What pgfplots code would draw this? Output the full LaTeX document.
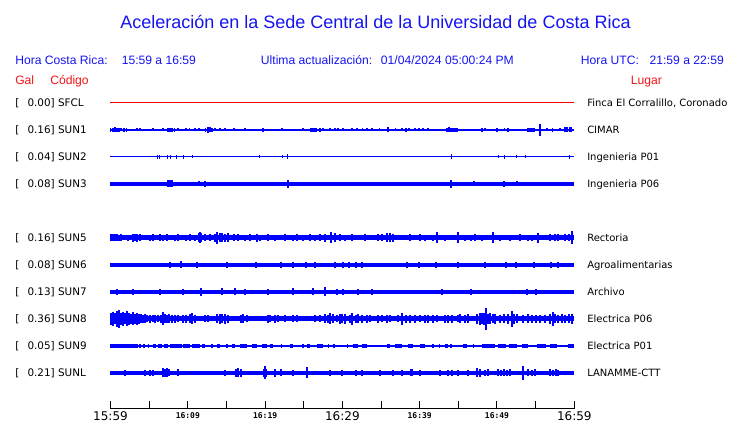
\documentclass[border=0pt]{standalone}
\usepackage{pgfplots}
\pgfplotsset{compat=1.18}
\usepackage{fontspec}
\setmainfont{DejaVu Sans}
\newfontfamily\lib{Liberation Sans}
\newfontfamily\dvmono{DejaVu Sans Mono}
\definecolor{tb}{RGB}{20,20,240}
\definecolor{tr}{RGB}{240,20,20}
\newcommand\bigt[1]{\hbox{\fontsize{9}{9}\selectfont #1}}
\newcommand\smt[1]{\hbox{\dvmono\bfseries\fontsize{6}{6}\selectfont #1}}
\pgfplotsset{
  spk/.style={draw=none, mark=none, forget plot,
    error bars/.cd, y dir=both, y explicit, error mark=none,
    error bar style={line width=#1, draw=blue, solid}},
  spk/.default=0.9pt,
  base/.style={blue, line width=#1, line cap=butt, mark=none, forget plot},
}
\begin{document}
\begin{tikzpicture}
\begin{axis}[name=ax,
  scale only axis, width=347.85pt, height=239.25pt,
  xmin=0, xmax=60, ymin=0, ymax=319,
  enlargelimits=false, clip=false,
  axis x line=bottom, axis y line=none,
  axis line style={black, line width=0.75pt, -},
  xtick={0,5,...,60},
  xticklabels={{\bigt{15:59}},{},{\smt{16:09}},{},{\smt{16:19}},{},{\bigt{16:29}},{},{\smt{16:39}},{},{\smt{16:49}},{},{\bigt{16:59}}},
  xtick align=inside, major tick length=6pt,
  major tick style={black, line width=0.75pt},
  xticklabel style={anchor=center, inner sep=0pt, yshift=-5.25pt},
]
% SFCL
\addplot[red, line width=0.75pt, mark=none] coordinates {(0,306)(60,306)};
% SUN1
\addplot[base=1.1pt] coordinates {(0,279)(60,279)};
\addplot[spk=0.8pt] coordinates {
(0.06,279)+-(0,2)(0.32,279)+-(0,2)(0.58,279)+-(0,2.5)(0.84,279)+-(0,2)(1.10,279)+-(0,2)(1.36,279)+-(0,1.5)(1.75,279)+-(0,2)(2.13,279)+-(0,2)(3.43,279)+-(0,1.5)(3.82,279)+-(0,1.5)(5.50,279)+-(0,1.5)(6.79,279)+-(0,1.5)(7.44,279)+-(0,2)(7.70,279)+-(0,2)(7.96,279)+-(0,2)(8.34,279)+-(0,2)(8.73,279)+-(0,1.5)(9.77,279)+-(0,1.5)(10.28,279)+-(0,1.5)(10.93,279)+-(0,1.5)(11.45,279)+-(0,1.5)(12.35,279)+-(0,2)(12.61,279)+-(0,3)(12.87,279)+-(0,2.5)(13.13,279)+-(0,2)(13.52,279)+-(0,1.5)(14.17,279)+-(0,1.5)(14.81,279)+-(0,1.5)(15.98,279)+-(0,1.5)(17.40,279)+-(0,1.5)(19.73,279)+-(0,2)(22.19,279)+-(0,1.5)(24.90,279)+-(0,1.5)(25.94,279)+-(0,2)(26.20,279)+-(0,2)(26.46,279)+-(0,2)(26.71,279)+-(0,2)(27.10,279)+-(0,2)(27.49,279)+-(0,1.5)(28.40,279)+-(0,1.5)(29.04,279)+-(0,1.5)(29.43,279)+-(0,1.5)(30.08,279)+-(0,1.5)(31.24,279)+-(0,1.5)(31.89,279)+-(0,1.5)(32.66,279)+-(0,1.5)(33.18,279)+-(0,1.5)(33.83,279)+-(0,1.5)(34.86,279)+-(0,1.5)(35.90,279)+-(0,2.5)(36.81,279)+-(0,1.5)(37.71,279)+-(0,1.5)(38.23,279)+-(0,2)(38.62,279)+-(0,1.5)(39.39,279)+-(0,1.5)(39.91,279)+-(0,1.5)(40.43,279)+-(0,1.5)(41.07,279)+-(0,1.5)(43.53,279)+-(0,2)(43.79,279)+-(0,2.5)(44.05,279)+-(0,2)(44.31,279)+-(0,2)(44.57,279)+-(0,2)(44.83,279)+-(0,2)(48.06,279)+-(0,2)(48.45,279)+-(0,1.5)(50.00,279)+-(0,2)(51.03,279)+-(0,1.5)(51.42,279)+-(0,2)(54.01,279)+-(0,2)(54.27,279)+-(0,2)(54.53,279)+-(0,2)(54.79,279)+-(0,2)(55.56,279)+-(0,6)(56.47,279)+-(0,1.5)(57.24,279)+-(0,2)(58.15,279)+-(0,1.5)(58.80,279)+-(0,2.5)(59.06,279)+-(0,2.5)(59.32,279)+-(0,2.5)(59.57,279)+-(0,2.5)};
% SUN2
\addplot[base=0.75pt] coordinates {(0,252)(60,252)};
\addplot[spk=0.75pt] coordinates {
(6.02,252)+-(0,2)(6.40,252)+-(0,2)(7.31,252)+-(0,2)(7.70,252)+-(0,2)(8.60,252)+-(0,2)(9.38,252)+-(0,2)(10.67,252)+-(0,1.5)(19.34,252)+-(0,1.5)(22.19,252)+-(0,1.5)(22.96,252)+-(0,2.5)(44.05,252)+-(0,2.5)(50.13,252)+-(0,1.5)(51.03,252)+-(0,2)(52.46,252)+-(0,1.5)(53.75,252)+-(0,1.5)(59.32,252)+-(0,2)};
% SUN3
\addplot[base=2.6pt] coordinates {(0,225)(60,225)};
\addplot[spk] coordinates {
(7.44,225)+-(0,3.5)(7.70,225)+-(0,3.5)(7.96,225)+-(0,3.5)(11.45,225)+-(0,2.5)(12.22,225)+-(0,3)(22.96,225)+-(0,4)(44.05,225)+-(0,4)(47.03,225)+-(0,2.5)(50.90,225)+-(0,3)(52.59,225)+-(0,2.5)};
% SUN5
\addplot[base=3.75pt] coordinates {(0,171)(60,171)};
\addplot[spk] coordinates {
(0.06,171)+-(0,3.5)(0.32,171)+-(0,3.5)(0.58,171)+-(0,3.5)(0.84,171)+-(0,3.5)(1.10,171)+-(0,3)(1.36,171)+-(0,3.5)(2.26,171)+-(0,3)(2.91,171)+-(0,4)(3.17,171)+-(0,3.5)(3.43,171)+-(0,4)(3.82,171)+-(0,3.5)(5.11,171)+-(0,3)(5.50,171)+-(0,3.5)(6.40,171)+-(0,3.5)(6.79,171)+-(0,3)(7.31,171)+-(0,3.5)(8.34,171)+-(0,3)(8.73,171)+-(0,3.5)(9.77,171)+-(0,3)(10.28,171)+-(0,3.5)(10.93,171)+-(0,3)(11.45,171)+-(0,4.5)(11.58,171)+-(0,5.5)(11.71,171)+-(0,4.5)(12.22,171)+-(0,3.5)(12.87,171)+-(0,3.5)(13.52,171)+-(0,4)(13.78,171)+-(0,6)(14.17,171)+-(0,4.5)(14.42,171)+-(0,4.5)(14.81,171)+-(0,4)(15.20,171)+-(0,4.5)(15.98,171)+-(0,3.5)(16.49,171)+-(0,3.5)(17.40,171)+-(0,3)(18.05,171)+-(0,3.5)(18.95,171)+-(0,4)(19.34,171)+-(0,3)(20.38,171)+-(0,3.5)(21.28,171)+-(0,3)(22.57,171)+-(0,3.5)(23.61,171)+-(0,3)(24.13,171)+-(0,3.5)(24.90,171)+-(0,3)(25.81,171)+-(0,3.5)(26.46,171)+-(0,3)(27.10,171)+-(0,3.5)(27.75,171)+-(0,4)(28.52,171)+-(0,5.5)(29.04,171)+-(0,4.5)(29.69,171)+-(0,3.5)(30.34,171)+-(0,3)(31.24,171)+-(0,3.5)(32.92,171)+-(0,3.5)(34.60,171)+-(0,3.5)(35.12,171)+-(0,3.5)(35.77,171)+-(0,4.5)(36.16,171)+-(0,4.5)(36.55,171)+-(0,4)(38.74,171)+-(0,3.5)(40.04,171)+-(0,3.5)(40.68,171)+-(0,3)(41.72,171)+-(0,3)(42.24,171)+-(0,5.5)(43.27,171)+-(0,3)(44.95,171)+-(0,5.5)(45.86,171)+-(0,3)(46.64,171)+-(0,3)(47.15,171)+-(0,3.5)(48.06,171)+-(0,3)(49.48,171)+-(0,5.5)(50.39,171)+-(0,3)(51.68,171)+-(0,3)(52.98,171)+-(0,3.5)(54.01,171)+-(0,3)(54.53,171)+-(0,3)(55.30,171)+-(0,5)(56.86,171)+-(0,3.5)(57.50,171)+-(0,3.5)(57.89,171)+-(0,3.5)(58.80,171)+-(0,3.5)(59.32,171)+-(0,3.5)(59.70,171)+-(0,6.5)};
% SUN6
\addplot[base=2.6pt] coordinates {(0,144)(60,144)};
\addplot[spk] coordinates {
(7.70,144)+-(0,3)(9.12,144)+-(0,3.5)(11.19,144)+-(0,3)(15.07,144)+-(0,3)(18.82,144)+-(0,3)(22.06,144)+-(0,3)(23.61,144)+-(0,3)(25.29,144)+-(0,3)(26.46,144)+-(0,3)(29.04,144)+-(0,3)(30.08,144)+-(0,3)(30.85,144)+-(0,3)(31.76,144)+-(0,3)(32.53,144)+-(0,3)(38.36,144)+-(0,3)(39.91,144)+-(0,3)(42.11,144)+-(0,3)(44.95,144)+-(0,3)(48.45,144)+-(0,3)(51.16,144)+-(0,3)(52.46,144)+-(0,3)(54.79,144)+-(0,3)(56.99,144)+-(0,3)(57.89,144)+-(0,3)};
% SUN7
\addplot[base=2.6pt] coordinates {(0,117)(60,117)};
\addplot[spk] coordinates {
(0.84,117)+-(0,3)(2.91,117)+-(0,3)(6.40,117)+-(0,3)(9.38,117)+-(0,3)(11.71,117)+-(0,4)(14.42,117)+-(0,3.5)(16.11,117)+-(0,3.5)(17.40,117)+-(0,3)(20.38,117)+-(0,3)(23.61,117)+-(0,3.5)(26.20,117)+-(0,3.5)(27.75,117)+-(0,4.5)(29.30,117)+-(0,3)(30.08,117)+-(0,3)(32.02,117)+-(0,3)(33.83,117)+-(0,3)(42.88,117)+-(0,3)(46.64,117)+-(0,3)(53.88,117)+-(0,3)(55.05,117)+-(0,3)};
% SUN8
\addplot[base=3.75pt] coordinates {(0,90)(60,90)};
\addplot[spk=1.1pt] coordinates {
(0.06,90)+-(0,6)(0.32,90)+-(0,7)(0.58,90)+-(0,5.5)(0.84,90)+-(0,8)(1.10,90)+-(0,9)(1.36,90)+-(0,6)(1.62,90)+-(0,7)(1.88,90)+-(0,5.5)(2.13,90)+-(0,7.5)(2.39,90)+-(0,6)(2.65,90)+-(0,5)(2.91,90)+-(0,6.5)(3.17,90)+-(0,5)(3.43,90)+-(0,6)(3.69,90)+-(0,5)(3.95,90)+-(0,4.5)(4.20,90)+-(0,4)(4.46,90)+-(0,4.5)(4.72,90)+-(0,3.5)(5.11,90)+-(0,4)(5.50,90)+-(0,3.5)(5.76,90)+-(0,4)(6.15,90)+-(0,3.5)(6.53,90)+-(0,4)(6.79,90)+-(0,6.5)(7.05,90)+-(0,4.5)(7.31,90)+-(0,4)(7.57,90)+-(0,4.5)(7.96,90)+-(0,4)(8.34,90)+-(0,4)(8.73,90)+-(0,3.5)(9.38,90)+-(0,4)(9.77,90)+-(0,4)(10.28,90)+-(0,4.5)(10.54,90)+-(0,5.5)(10.93,90)+-(0,4)(12.22,90)+-(0,3.5)(12.61,90)+-(0,3.5)(13.78,90)+-(0,4.5)(14.17,90)+-(0,5)(14.42,90)+-(0,4.5)(14.81,90)+-(0,5)(15.20,90)+-(0,4)(16.88,90)+-(0,4)(17.14,90)+-(0,4.5)(17.66,90)+-(0,3.5)(20.38,90)+-(0,4)(20.63,90)+-(0,3.5)(21.28,90)+-(0,4)(21.67,90)+-(0,3.5)(22.57,90)+-(0,3.5)(23.61,90)+-(0,3.5)(24.13,90)+-(0,3.5)(26.46,90)+-(0,3.5)(27.10,90)+-(0,3.5)(27.75,90)+-(0,4.5)(28.14,90)+-(0,4)(28.40,90)+-(0,5.5)(28.78,90)+-(0,4.5)(29.30,90)+-(0,3.5)(29.69,90)+-(0,5)(29.95,90)+-(0,4.5)(30.34,90)+-(0,5)(30.98,90)+-(0,4)(31.24,90)+-(0,6)(31.76,90)+-(0,4)(32.02,90)+-(0,4.5)(32.53,90)+-(0,4)(33.18,90)+-(0,4)(33.57,90)+-(0,3.5)(34.60,90)+-(0,4)(35.12,90)+-(0,3.5)(35.77,90)+-(0,4)(36.16,90)+-(0,3.5)(37.19,90)+-(0,3.5)(37.71,90)+-(0,6)(38.23,90)+-(0,4)(38.74,90)+-(0,4)(39.39,90)+-(0,4)(40.04,90)+-(0,3.5)(40.68,90)+-(0,4)(41.07,90)+-(0,4)(41.72,90)+-(0,4)(42.24,90)+-(0,3.5)(43.27,90)+-(0,4)(43.66,90)+-(0,4)(44.18,90)+-(0,4)(44.95,90)+-(0,3.5)(45.21,90)+-(0,4.5)(45.86,90)+-(0,4)(46.25,90)+-(0,4.5)(47.41,90)+-(0,5)(47.80,90)+-(0,6)(48.06,90)+-(0,5.5)(48.32,90)+-(0,6)(48.58,90)+-(0,11)(48.84,90)+-(0,5)(49.09,90)+-(0,5.5)(49.48,90)+-(0,4.5)(49.74,90)+-(0,5)(50.39,90)+-(0,4)(50.90,90)+-(0,4.5)(51.42,90)+-(0,5)(51.94,90)+-(0,8)(52.20,90)+-(0,5)(52.59,90)+-(0,4.5)(53.36,90)+-(0,4)(54.01,90)+-(0,4.5)(54.53,90)+-(0,4)(55.05,90)+-(0,4)(55.56,90)+-(0,4)(56.21,90)+-(0,4)(56.86,90)+-(0,5)(57.24,90)+-(0,7)(57.50,90)+-(0,4.5)(57.89,90)+-(0,4)(58.41,90)+-(0,4.5)(58.80,90)+-(0,4)(59.32,90)+-(0,4.5)(59.70,90)+-(0,5)};
% SUN9
\addplot[base=1.1pt] coordinates {(0,63)(60,63)};
\addplot[base=2.6pt, unbounded coords=jump] coordinates {
(0,63)(3.56,63)(3.6,nan)(3.7,63)(3.95,63)(4.0,nan)(4.2,63)(4.4,63)(4.5,nan)(4.8,63)(5.0,63)(5.1,nan)(5.5,63)(5.9,63)(6.0,nan)(6.15,63)(6.6,63)(6.7,nan)(6.9,63)(7.45,63)(7.5,nan)(7.7,63)(9.25,63)(9.3,nan)(9.4,63)(10.3,63)(10.4,nan)(10.6,63)(11.6,63)(11.7,nan)(11.85,63)(12.2,63)(12.3,nan)(13.0,63)(13.2,63)(13.3,nan)(13.8,63)(14.2,63)(14.3,nan)(15.0,63)(15.2,63)(15.3,nan)(15.7,63)(16.1,63)(16.2,nan)(16.75,63)(17.65,63)(17.7,nan)(18.3,63)(18.95,63)(19.0,nan)(19.6,63)(20.25,63)(20.3,nan)(20.6,63)(21.0,63)(21.1,nan)(22.0,63)(22.2,63)(22.3,nan)(23.2,63)(23.6,63)(23.7,nan)(24.8,63)(25.0,63)(25.1,nan)(25.4,63)(25.8,63)(25.9,nan)(26.7,63)(27.5,63)(27.6,nan)(28.1,63)(28.3,63)(28.4,nan)(28.8,63)(29.0,63)(29.1,nan)(30.6,63)(30.75,63)(30.8,nan)(31.35,63)(32.0,63)(32.1,nan)(32.5,63)(33.15,63)(33.2,nan)(35.75,63)(36.15,63)(36.2,nan)(36.8,63)(37.7,63)(37.8,nan)(38.5,63)(39.1,63)(39.2,nan)(40.05,63)(40.7,63)(40.8,nan)(41.65,63)(41.85,63)(41.9,nan)(42.45,63)(42.65,63)(42.7,nan)(43.3,63)(43.7,63)(43.8,nan)(43.95,63)(44.15,63)(44.2,nan)(45.6,63)(46.1,63)(46.2,nan)(46.85,63)(47.05,63)(47.1,nan)(48.1,63)(49.7,63)(49.8,nan)(50.1,63)(51.2,63)(51.3,nan)(51.5,63)(52.6,63)(52.7,nan)(53.2,63)(54.0,63)(54.1,nan)(55.2,63)(56.3,63)(56.4,nan)(56.9,63)(57.8,63)(57.9,nan)(59.15,63)(60,63)};
% SUNL
\addplot[base=2.8pt] coordinates {(0,36)(60,36)};
\addplot[spk] coordinates {
(1.88,36)+-(0,3)(4.46,36)+-(0,3)(5.11,36)+-(0,3)(5.50,36)+-(0,3)(6.79,36)+-(0,4.5)(7.05,36)+-(0,4)(7.31,36)+-(0,4.5)(7.57,36)+-(0,3.5)(8.73,36)+-(0,3.5)(14.81,36)+-(0,3)(16.24,36)+-(0,4)(16.49,36)+-(0,4.5)(16.88,36)+-(0,4)(19.86,36)+-(0,4)(19.99,36)+-(0,6.5)(20.12,36)+-(0,4)(21.28,36)+-(0,4)(22.06,36)+-(0,3.5)(23.61,36)+-(0,3)(25.42,36)+-(0,5.5)(28.40,36)+-(0,3)(29.95,36)+-(0,3)(31.76,36)+-(0,3)(32.53,36)+-(0,3)(34.86,36)+-(0,3)(36.55,36)+-(0,3)(37.71,36)+-(0,3)(38.87,36)+-(0,3.5)(39.00,36)+-(0,3.5)(40.04,36)+-(0,3)(42.62,36)+-(0,3)(43.66,36)+-(0,3)(44.18,36)+-(0,3)(44.95,36)+-(0,3)(46.25,36)+-(0,3)(47.41,36)+-(0,4.5)(47.80,36)+-(0,4)(48.45,36)+-(0,3)(48.84,36)+-(0,3.5)(50.13,36)+-(0,3.5)(50.52,36)+-(0,3)(50.90,36)+-(0,3.5)(51.29,36)+-(0,3)(51.68,36)+-(0,3.5)(53.36,36)+-(0,7)(54.01,36)+-(0,3.5)(54.53,36)+-(0,3)(54.92,36)+-(0,3.5)(56.86,36)+-(0,3.5)(57.24,36)+-(0,3)(57.63,36)+-(0,3.5)(57.89,36)+-(0,3)};
\end{axis}
\begin{scope}[shift={(ax.south west)}, xshift=-82.875pt, yshift=306.75pt, x=0.75pt, y=-0.75pt]
\path (0,0) rectangle (740,423);
\node[anchor=base, inner sep=0pt, text=tb, font=\lib\fontsize{13.5}{14}\selectfont] at (375.5,29) {Aceleración en la Sede Central de la Universidad de Costa Rica};
\begin{scope}[every node/.style={anchor=base west, inner sep=0pt, font=\lib\fontsize{9.1}{10}\selectfont}]
\node[text=tb] at (15,65) {Hora Costa Rica:};
\node[text=tb] at (121.5,65) {15:59 a 16:59};
\node[text=tb] at (260.7,65) {Ultima actualización:};
\node[text=tb] at (380.7,65) {01/04/2024 05:00:24 PM};
\node[text=tb] at (580.7,65) {Hora UTC:};
\node[text=tb] at (649.3,65) {21:59 a 22:59};
\node[text=tr] at (15,85) {Gal};
\node[text=tr] at (50,85) {Código};
\node[text=tr] at (630.7,85) {Lugar};
\end{scope}
\foreach \py/\v/\c/\p in {103/0.00/SFCL/{Finca El Corralillo, Coronado},130/0.16/SUN1/CIMAR,157/0.04/SUN2/Ingenieria P01,184/0.08/SUN3/Ingenieria P06,238/0.16/SUN5/Rectoria,265/0.08/SUN6/Agroalimentarias,292/0.13/SUN7/Archivo,319/0.36/SUN8/Electrica P06,346/0.05/SUN9/Electrica P01,373/0.21/SUNL/LANAMME-CTT}{
  \node[anchor=base west, inner sep=0pt, font=\fontsize{7.8}{9}\selectfont] at (15,\py+3.8) {[};
  \node[anchor=base west, inner sep=0pt, font=\fontsize{7.8}{9}\selectfont] at (27.3,\py+3.8) {\v] \c};
  \node[anchor=base west, inner sep=0pt, font=\fontsize{7.5}{9}\selectfont] at (587,\py+3.6) {\p};
}
\end{scope}
\end{tikzpicture}
\end{document}
